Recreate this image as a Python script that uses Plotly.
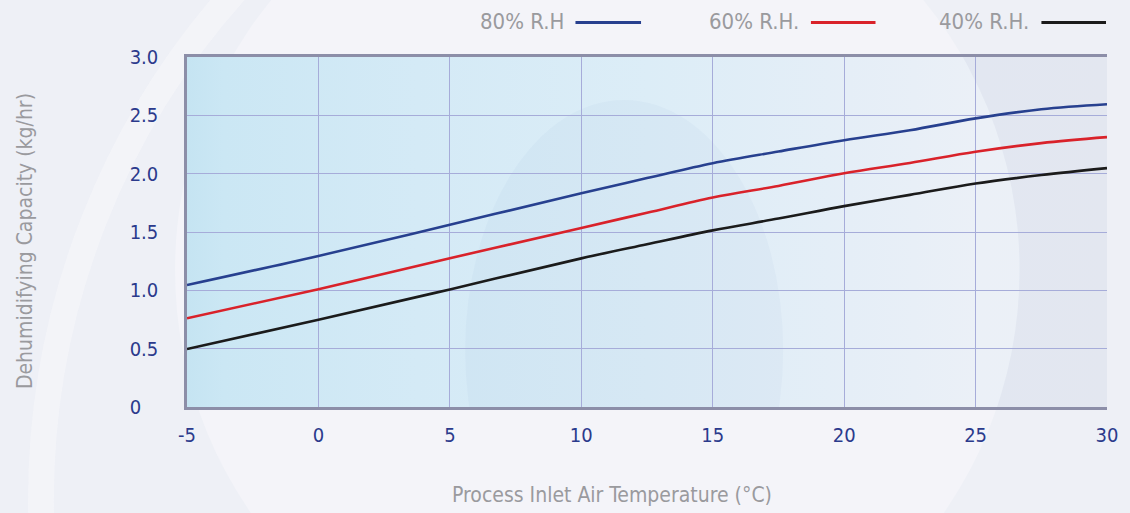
import base64
import plotly.graph_objects as go

# ---- data ----
temperature_c = [-5, 0, 5, 10, 12.5, 15, 17.5, 20, 22.5, 25, 27.5, 30]
rh80 = [1.045, 1.295, 1.562, 1.832, 1.962, 2.09, 2.19, 2.287, 2.372, 2.474, 2.552, 2.595]
rh60 = [0.76, 1.01, 1.275, 1.535, 1.665, 1.796, 1.895, 2.003, 2.092, 2.188, 2.262, 2.313]
rh40 = [0.497, 0.747, 1.008, 1.274, 1.395, 1.514, 1.615, 1.722, 1.818, 1.915, 1.988, 2.048]

series_names = ["80% R.H", "60% R.H.", "40% R.H."]
series_colors = ["#27408f", "#d9222a", "#1b1b1b"]

x_ticks = [-5, 0, 5, 10, 15, 20, 25, 30]
x_ticktext = ["-5", "0", "5", "10", "15", "20", "25", "30"]
y_ticks = [0, 0.5, 1.0, 1.5, 2.0, 2.5, 3.0]
# labels are left-aligned in the reference: pad "0" with a punctuation + figure space
y_ticktext = ["0\u2008\u2007", "0.5", "1.0", "1.5", "2.0", "2.5", "3.0"]

x_title = "Process Inlet Air Temperature (°C)"
y_title = "Dehumidifying Capacity (kg/hr)"

# ---- layout geometry ----
W, H = 1130, 513
L, R, T, B = 187, 17, 57, 106
PW, PH = W - L - R, H - T - B

FONT = "DejaVu Sans Condensed, Liberation Sans Narrow, sans-serif"
TICK_COLOR = "#2b3a8c"
TITLE_GRAY = "#9a9a9e"
GRID = "#a6acd9"
FRAME = "#8c8ea8"


def px_x(p):
    return (p - L) / PW


def px_y(p):
    return (T + PH - p) / PH


# ---- background (page tint, watermark, plot-area gradient) as SVG image ----
x0, y0, x1, y1 = L, T, L + PW, T + PH
cx, cy, r = 600, 270, 425
svg = f'''<svg xmlns="http://www.w3.org/2000/svg" width="{W}" height="{H}" viewBox="0 0 {W} {H}">
<defs>
<linearGradient id="g" x1="0" x2="1" y1="0" y2="0">
<stop offset="0" stop-color="#c5e4f2"/>
<stop offset="0.04" stop-color="#cbe7f4"/>
<stop offset="0.25" stop-color="#d4eaf6"/>
<stop offset="0.5" stop-color="#dcedf7"/>
<stop offset="0.72" stop-color="#e5eef7"/>
<stop offset="0.86" stop-color="#ebf0f7"/>
<stop offset="1" stop-color="#ecf0f6"/>
</linearGradient>
<clipPath id="c"><rect x="{x0}" y="{y0}" width="{PW}" height="{PH}"/></clipPath>
<mask id="m"><rect x="0" y="0" width="{W}" height="{H}" fill="white"/><circle cx="{cx}" cy="{cy}" r="{r}" fill="black"/></mask>
</defs>
<rect width="{W}" height="{H}" fill="#eef0f6"/>
<circle cx="{cx}" cy="{cy}" r="{r}" fill="#f4f4f9"/>
<circle cx="800" cy="500" r="760" fill="none" stroke="#f6f6fa" stroke-width="26" opacity="0.6"/>
<rect x="{x0}" y="{y0}" width="{PW}" height="{PH}" fill="url(#g)"/>
<g clip-path="url(#c)">
<rect x="700" y="{y0}" width="{x1 - 700}" height="{PH}" fill="rgba(90,100,150,0.06)" mask="url(#m)"/>
<ellipse cx="627" cy="350" rx="160" ry="250" fill="rgba(140,170,210,0.07)"/>
</g>
</svg>'''
svg_uri = "data:image/svg+xml;base64," + base64.b64encode(svg.encode()).decode()

fig = go.Figure()
for name, ys, color in zip(series_names, [rh80, rh60, rh40], series_colors):
    fig.add_trace(go.Scatter(
        x=temperature_c, y=ys, name=name, mode="lines",
        line=dict(color=color, width=2.6, shape="spline", smoothing=1.0),
        showlegend=False,
    ))

fig.add_layout_image(dict(
    source=svg_uri, xref="paper", yref="paper",
    x=-L / PW, y=1 + T / PH, sizex=W / PW, sizey=H / PH,
    xanchor="left", yanchor="top", sizing="stretch", layer="below",
))

# legend drawn as text + key lines (key to the right of the label)
legend_line_px = [(578, 644), (815, 880), (1047, 1112)]
shapes = []
annotations = []
for name, color, (a, b) in zip(series_names, series_colors, legend_line_px):
    shapes.append(dict(type="line", xref="paper", yref="paper",
                       x0=px_x(a), x1=px_x(b), y0=px_y(22.5), y1=px_y(22.5),
                       line=dict(color=color, width=2.8)))
    annotations.append(dict(text=name, xref="paper", yref="paper",
                            x=px_x(a - 10), y=px_y(21), xanchor="right", yanchor="middle",
                            showarrow=False, font=dict(family=FONT, size=22, color=TITLE_GRAY)))

# axis titles (placed as in the reference: x title left of centre, y title slightly low)
annotations.append(dict(text=x_title, xref="paper", yref="paper",
                        x=px_x(615), y=px_y(495), xanchor="center", yanchor="middle",
                        showarrow=False, font=dict(family=FONT, size=21, color=TITLE_GRAY)))
annotations.append(dict(text=y_title, xref="paper", yref="paper", textangle=-90,
                        x=px_x(24), y=px_y(241), xanchor="center", yanchor="middle",
                        showarrow=False, font=dict(family=FONT, size=21, color=TITLE_GRAY)))

fig.update_layout(
    width=W, height=H,
    margin=dict(l=L, r=R, t=T, b=B),
    paper_bgcolor="#eef0f6",
    plot_bgcolor="rgba(0,0,0,0)",
    showlegend=False,
    shapes=shapes,
    annotations=annotations,
    xaxis=dict(
        range=[-5, 30], tickmode="array", tickvals=x_ticks, ticktext=x_ticktext,
        tickfont=dict(family=FONT, size=20, color=TICK_COLOR),
        ticklabelstandoff=8,
        showgrid=True, gridcolor=GRID, gridwidth=1,
        showline=True, linecolor=FRAME, linewidth=2.5, mirror=True,
        zeroline=False, ticks="",
    ),
    yaxis=dict(
        range=[0, 3], tickmode="array", tickvals=y_ticks, ticktext=y_ticktext,
        tickfont=dict(family=FONT, size=20, color=TICK_COLOR),
        ticklabelstandoff=22,
        showgrid=True, gridcolor=GRID, gridwidth=1,
        showline=True, linecolor=FRAME, linewidth=2.5,
        zeroline=False, ticks="",
    ),
)

fig.write_html(
    "out.html",
    config={"displayModeBar": False, "responsive": False},
    post_script="document.body.style.margin='0';document.body.style.overflow='hidden';",
)
